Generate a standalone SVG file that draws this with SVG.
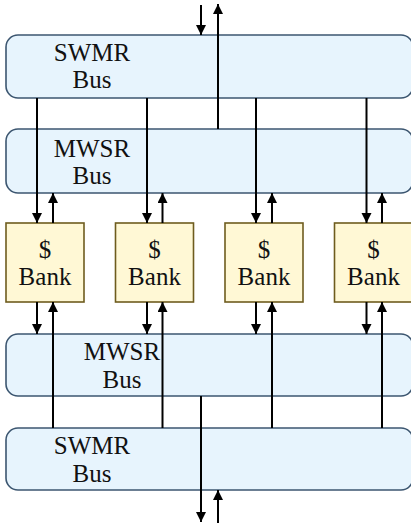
<svg xmlns="http://www.w3.org/2000/svg" width="411" height="523" viewBox="0 0 411 523">
<style>
.bus{fill:#E7F4FD;stroke:#3C5670;stroke-width:1.6}
.bank{fill:#FFF8D5;stroke:#6E5C1E;stroke-width:1.6}
.t{font-family:"Liberation Serif","Times New Roman",serif;font-size:25px;fill:#111;text-anchor:middle}
.c{stroke:#000;stroke-width:2;fill:none;marker-end:url(#ah)}
</style>
<defs>
<marker id="ah" markerUnits="userSpaceOnUse" markerWidth="10" markerHeight="12" viewBox="0 0 10 12" refX="10" refY="5" orient="auto">
<path d="M0,0 L10,5 L0,10 Z" fill="#000"/>
</marker>
</defs>
<g id="bus-swmr-top"><rect class="bus" x="6" y="35" width="407" height="63" rx="12"/><text class="t" x="92" y="61">SWMR</text><text class="t" x="92" y="88">Bus</text></g>
<g id="bus-mwsr-top"><rect class="bus" x="6" y="129" width="407" height="64" rx="12"/><text class="t" x="92" y="157">MWSR</text><text class="t" x="92" y="184">Bus</text></g>
<g id="bank1"><rect class="bank" x="6" y="223" width="78" height="79"/><text class="t" x="45" y="258">$</text><text class="t" x="45" y="285">Bank</text></g>
<g id="bank2"><rect class="bank" x="115.5" y="223" width="78" height="79"/><text class="t" x="154.5" y="258">$</text><text class="t" x="154.5" y="285">Bank</text></g>
<g id="bank3"><rect class="bank" x="225" y="223" width="78" height="79"/><text class="t" x="264" y="258">$</text><text class="t" x="264" y="285">Bank</text></g>
<g id="bank4"><rect class="bank" x="334.5" y="223" width="78" height="79"/><text class="t" x="373.5" y="258">$</text><text class="t" x="373.5" y="285">Bank</text></g>
<g id="bus-mwsr-bottom"><rect class="bus" x="6" y="334" width="407" height="62" rx="12"/><text class="t" x="122" y="360">MWSR</text><text class="t" x="122" y="388">Bus</text></g>
<g id="bus-swmr-bottom"><rect class="bus" x="6" y="428" width="407" height="62" rx="12"/><text class="t" x="92" y="454">SWMR</text><text class="t" x="92" y="482">Bus</text></g>
<g id="connectors">
<path class="c" d="M201,5 V35"/>
<path class="c" d="M218,129 V4"/>
<path class="c" d="M37,98 V223"/>
<path class="c" d="M147,98 V223"/>
<path class="c" d="M256,98 V223"/>
<path class="c" d="M366.5,98 V223"/>
<path class="c" d="M53,223 V193"/>
<path class="c" d="M162.5,223 V193"/>
<path class="c" d="M272,223 V193"/>
<path class="c" d="M382,223 V193"/>
<path class="c" d="M37,302 V334"/>
<path class="c" d="M147,302 V334"/>
<path class="c" d="M256,302 V334"/>
<path class="c" d="M366.5,302 V334"/>
<path class="c" d="M53,428 V302"/>
<path class="c" d="M162.5,428 V302"/>
<path class="c" d="M272,428 V302"/>
<path class="c" d="M382,428 V302"/>
<path class="c" d="M201,396 V522"/>
<path class="c" d="M218,523 V490"/>
</g>
</svg>
